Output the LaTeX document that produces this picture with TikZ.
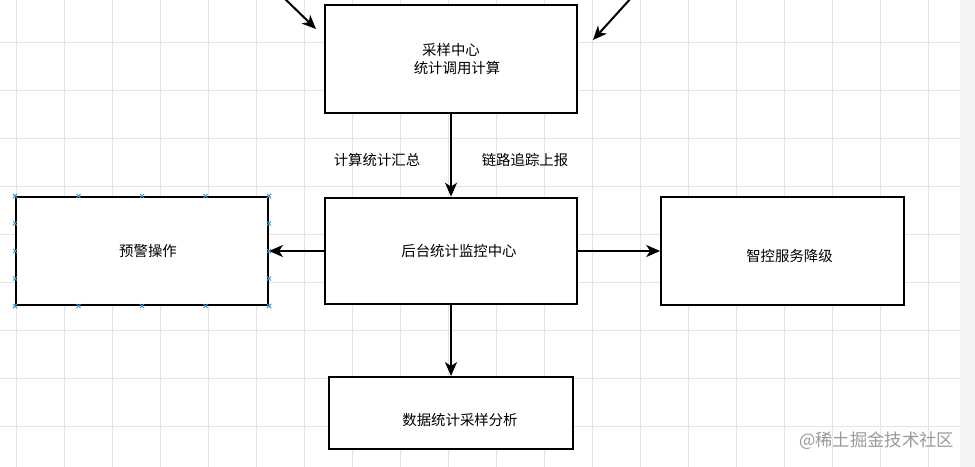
\documentclass[tikz,border=0pt]{standalone}
\usepackage{fontspec}
\newfontfamily\cjk{Noto Sans CJK SC}
\usetikzlibrary{arrows.meta,positioning,calc}
\definecolor{gridgray}{HTML}{E4E4E4}
\definecolor{handleblue}{HTML}{3A9BD5}
\definecolor{markgray}{HTML}{9A9A9A}
\definecolor{barfill}{HTML}{F4F4F6}

\begin{document}
\begin{tikzpicture}[x=0.75pt, y=-0.75pt, >={Stealth[length=10.5pt,width=9pt,inset=3pt]},
 box/.style={draw, line width=1.5pt, rectangle, fill=white, font=\cjk\fontsize{10.8}{14}\selectfont, align=center},
 lab/.style={font=\cjk\fontsize{10.8}{15}\selectfont, inner sep=1pt},
 arr/.style={->, line width=1.5pt},
 handle/.style={handleblue, line width=0.6pt}]
\useasboundingbox (0,0) rectangle (975,467);
\fill[white] (0,0) rectangle (975,467);
% grid
\foreach \gx in {0,...,19}
  \draw[gridgray, line width=0.5pt] ({16+48*\gx},0) -- ({16+48*\gx},467);
\foreach \gy in {0,...,9}
  \draw[gridgray, line width=0.5pt] (0,{-6+48*\gy}) -- (960,{-6+48*\gy});
\fill[barfill] (960,0) rectangle (975,467);
% boxes
\node[box, minimum width=189pt, minimum height=81pt] (sample) at (451,59) {采样中心\\\hspace*{9pt}统计调用计算};
\node[box, minimum width=189pt, minimum height=80pt] (monitor) at (451,251) {\hspace*{12pt}后台统计监控中心};
\node[box, minimum width=189pt, minimum height=81pt] (warn) at (142,251) {\hspace*{9pt}预警操作};
\node[box, minimum width=182pt, minimum height=81pt] (degrade) at (782.5,251) {\raisebox{-7.5pt}[0pt][0pt]{\hspace*{10.5pt}智控服务降级}};
\node[box, minimum width=183pt, minimum height=54pt] (analysis) at (451,413) {\raisebox{-9pt}[0pt][0pt]{\hspace*{13.5pt}数据统计采样分析}};
% incoming
\coordinate (inA) at (283,-3);
\coordinate (inAend) at (316,29);
\coordinate (inB) at (632,-3);
\coordinate (inBend) at (593,40);
\draw[arr] (inA) -- (inAend);
\draw[arr] (inB) -- (inBend);
% links
\draw[arr] (sample) -- (monitor);
\node[lab] (sumlab) at (377,160) {计算统计汇总};
\node[lab] (tracelab) at (525,160) {链路追踪上报};
\draw[arr] (monitor) -- (warn);
\draw[arr] (monitor) -- (degrade);
\draw[arr] (monitor) -- (analysis);
% selection handles
\foreach \f in {0,0.25,0.5,0.75,1} {
  \foreach \p in {($(warn.north west)!\f!(warn.north east)$),
                  ($(warn.south west)!\f!(warn.south east)$),
                  ($(warn.north west)!\f!(warn.south west)$),
                  ($(warn.north east)!\f!(warn.south east)$)}
    \draw[handle] \p ++(-1.5pt,-1.5pt) -- ++(3pt,3pt) \p ++(-1.5pt,1.5pt) -- ++(3pt,-3pt);
}
% watermark
\node[font=\cjk\fontsize{13}{15}\selectfont, text=markgray, anchor=east] (mark) at (959,441) {@稀土掘金技术社区};
\end{tikzpicture}
\end{document}
